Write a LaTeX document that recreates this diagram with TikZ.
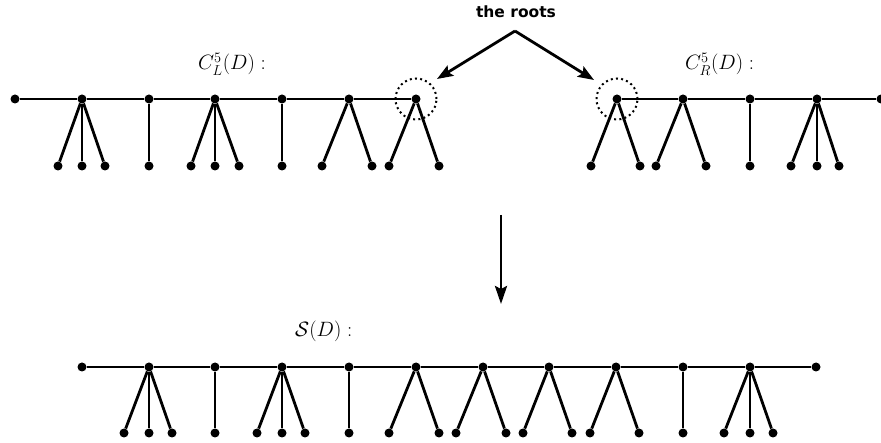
\documentclass[tikz,border=0pt]{standalone}
\usepackage{fontspec}
\newfontfamily\rootsfont{DejaVu Sans}
\usetikzlibrary{arrows.meta}
\begin{document}
\begin{tikzpicture}[x=1pt,y=-1pt,
  dot/.style={circle,fill=black,inner sep=0pt,minimum size=9pt},
  edge/.style={line width=2.8pt},
  rootring/.style={circle,draw,line width=2pt,dash pattern=on 2pt off 3.2pt,minimum size=41pt,inner sep=0pt},
  lbl/.style={font=\fontsize{20.5}{24}\selectfont,inner sep=0pt},
  arr/.style={line width=2.8pt,-{Stealth[length=16pt,width=12pt,inset=3pt]}}]
\useasboundingbox (0,0) rectangle (881,443);
% ---------- top left: C_L ----------
\node[dot] (L0) at (15,99) {};
\foreach \n/\x/\lv in {L1/82/{-24,0,23},L2/149/{0},L3/215/{-24,0,24},L4/282/{0},L5/349/{-27,23},L6/416/{-27,23}}{
  \node[dot] (\n) at (\x,99) {};
  \foreach \d [count=\i] in \lv {
    \node[dot] (\n l\i) at (\x+\d,166) {};
    \draw[edge] (\n) -- (\n l\i);
  }
}
\draw[edge] (L0) -- (L1) -- (L2) -- (L3) -- (L4) -- (L5) -- (L6);
% ---------- top right: C_R ----------
\foreach \n/\x/\lv in {R1/617/{-26,23},R2/683/{-27,23},R3/750/{0},R4/817/{-26,0,22}}{
  \node[dot] (\n) at (\x,99) {};
  \foreach \d [count=\i] in \lv {
    \node[dot] (\n l\i) at (\x+\d,166) {};
    \draw[edge] (\n) -- (\n l\i);
  }
}
\node[dot] (R5) at (881,99) {};
\draw[edge] (R1) -- (R2) -- (R3) -- (R4) -- (R5);
% ---------- roots ----------
\node[rootring] (cL) at (L6) {};
\node[rootring] (cR) at (R1) {};
\node[font=\rootsfont\bfseries\fontsize{15.5}{18}\selectfont,inner sep=0pt] (roots) at (516,12) {the roots};
\coordinate (apex) at (515,31);
\coordinate (tipL) at (437,79);
\coordinate (tipR) at (594,80);
\draw[arr] (apex) -- (tipL);
\draw[arr] (apex) -- (tipR);
% ---------- labels ----------
\node[lbl,anchor=base west] (labL) at (198,70) {$C^5_L(D):$};
\node[lbl,anchor=base west] (labR) at (685,70) {$C^5_R(D):$};
\node[lbl,anchor=base west] (labS) at (295,337) {$\mathcal{S}(D):$};
% ---------- down arrow ----------
\coordinate (dtop) at (501,215);
\coordinate (dbot) at (501,304);
\draw[line width=2.8pt,-{Stealth[length=18pt,width=12pt,inset=3pt]}] (dtop) -- (dbot);
% ---------- bottom: S(D) ----------
\node[dot] (B0) at (82,367) {};
\foreach \n/\x/\lv in {B1/149/{-25,0,23},B2/215/{0},B3/282/{-25,0,23},B4/349/{0},B5/416/{-27,23},B6/483/{-27,23},B7/549/{-26,23},B8/616/{-26,23},B9/683/{0},B10/750/{-26,0,23}}{
  \node[dot] (\n) at (\x,367) {};
  \foreach \d [count=\i] in \lv {
    \node[dot] (\n l\i) at (\x+\d,433) {};
    \draw[edge] (\n) -- (\n l\i);
  }
}
\node[dot] (B11) at (816,367) {};
\draw[edge] (B0) -- (B1) -- (B2) -- (B3) -- (B4) -- (B5) -- (B6) -- (B7) -- (B8) -- (B9) -- (B10) -- (B11);
\end{tikzpicture}
\end{document}
